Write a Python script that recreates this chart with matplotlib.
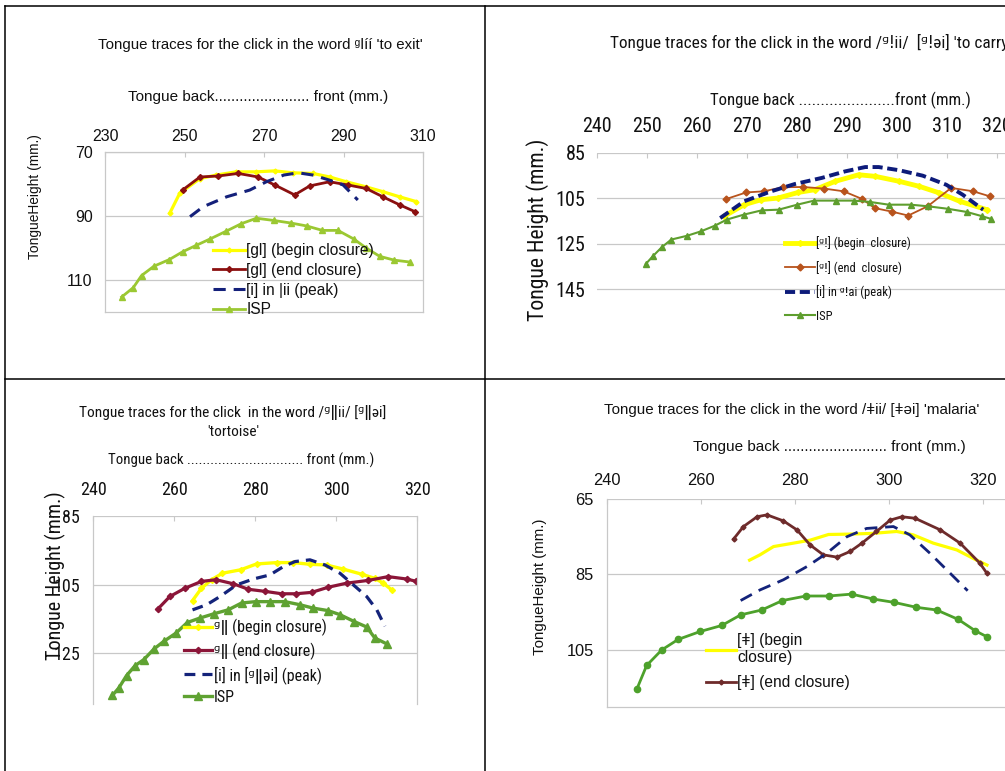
import matplotlib
matplotlib.use('Agg')
import matplotlib.pyplot as plt
from matplotlib import font_manager
from matplotlib.lines import Line2D

W, H = 1005, 771
names = {f.name for f in font_manager.fontManager.ttflist}
NARROW = 'Liberation Sans'
for cand in ['Liberation Sans Narrow', 'Arial Narrow', 'Roboto Condensed']:
    if cand in names:
        NARROW = cand
        break
IS_NARROW = NARROW != 'Liberation Sans'


def n(size):
    return size if IS_NARROW else size * 0.89


SANS = 'Liberation Sans'
FB = 'DejaVu Sans'
TXT = '#111111'
GRID = '#C8C8C8'

# ---------------- data ----------------
# Panel 1: ᶢǀíí 'to exit'
p1_begin_x = [246.3, 248.8, 253.9, 258.0, 263.0, 268.0, 272.7, 277.3, 282.3, 286.5, 290.7, 295.7, 299.9, 304.1, 308.3]
p1_begin_y = [89.1, 82.9, 78.3, 77.2, 76.2, 76.2, 75.9, 76.5, 76.7, 77.8, 79.3, 80.9, 82.4, 84.0, 85.5]
p1_end_x = [249.5, 253.9, 258.5, 263.5, 268.5, 272.7, 277.7, 281.5, 286.5, 291.1, 295.7, 299.9, 304.1, 307.9]
p1_end_y = [81.9, 77.8, 77.5, 76.7, 77.8, 80.3, 83.4, 80.6, 79.3, 80.3, 81.4, 84.0, 86.5, 88.6]
p1_peak_x = [251.4, 254.7, 260.6, 266.4, 270.6, 275.0, 278.6, 282.3, 286.5, 289.9, 293.6]
p1_peak_y = [90.2, 87.1, 84.0, 81.9, 79.3, 77.2, 76.5, 77.2, 78.8, 80.3, 85.0]
p1_isp_x = [234.2, 237.1, 239.2, 242.3, 246.2, 249.5, 252.9, 256.4, 260.4, 264.3, 268.1, 272.5, 276.8, 280.7, 284.7, 288.6, 292.6, 295.7, 299.1, 302.8, 306.8]
p1_isp_y = [115.3, 112.4, 108.6, 105.7, 103.6, 101.2, 99.2, 97.2, 94.8, 92.4, 90.7, 91.4, 92.2, 93.1, 94.5, 94.5, 97.2, 100.0, 102.6, 103.8, 104.4]
p1_xticks = [230, 250, 270, 290, 310]
p1_yticks = [70, 90, 110]
p1_labels = ['[gl] (begin closure)', '[gl] (end closure)', '[i] in |ii (peak)', 'ISP']

# Panel 2: /ᶢǃii/ [ᶢǃəi] 'to carry'
p2_begin_x = [265.5, 269.5, 272.9, 276.2, 280.3, 283.6, 287.7, 292.4, 295.7, 300.5, 304.5, 308.5, 312.6, 318.0]
p2_begin_y = [112.9, 107.8, 105.6, 104.9, 102.4, 101.2, 97.5, 94.6, 95.3, 97.5, 99.7, 102.6, 106.3, 110.0]
p2_end_x = [265.9, 269.9, 273.4, 277.3, 281.3, 285.5, 289.4, 293.1, 295.6, 299.1, 302.3, 306.2, 310.9, 315.3, 318.6]
p2_end_y = [105.3, 102.4, 101.9, 100.1, 100.0, 100.7, 101.9, 105.3, 109.3, 110.9, 112.6, 108.5, 100.4, 101.9, 104.1]
p2_peak_x = [264.7, 269.5, 274.9, 279.6, 285.0, 289.7, 293.7, 296.4, 300.5, 305.2, 309.9, 313.2, 317.3]
p2_peak_y = [113.7, 106.3, 101.9, 98.7, 96.0, 93.1, 91.2, 91.2, 92.6, 95.0, 99.0, 103.4, 110.0]
p2_isp_x = [249.8, 251.2, 253.0, 254.9, 258.1, 260.8, 263.6, 266.0, 269.4, 273.0, 276.4, 280.1, 283.5, 287.8, 291.4, 294.7, 298.4, 302.8, 306.2, 310.2, 314.0, 317.1, 318.9]
p2_isp_y = [134.0, 130.6, 126.6, 123.2, 121.5, 119.6, 117.1, 114.4, 112.2, 110.3, 110.0, 107.8, 106.0, 106.0, 106.0, 106.6, 107.8, 107.8, 108.5, 109.6, 111.0, 112.9, 114.1]
p2_xticks = [240, 250, 260, 270, 280, 290, 300, 310, 320]
p2_yticks = [85, 105, 125, 145]
p2_labels = ['[ᶢǃ] (begin  closure)', '[ᶢǃ] (end  closure)', '[i] in ᶢǃai (peak)', 'ISP']

# Panel 3: /ᶢǁii/ [ᶢǁəi] 'tortoise'
p3_begin_x = [264.5, 266.7, 269.2, 271.9, 276.4, 280.3, 285.3, 289.4, 293.5, 297.6, 301.7, 306.3, 309.5, 311.6, 313.7]
p3_begin_y = [109.7, 106.1, 103.6, 101.7, 100.7, 99.0, 98.6, 98.6, 99.1, 99.3, 100.5, 102.0, 103.2, 104.6, 106.6]
p3_end_x = [255.9, 258.9, 262.6, 266.7, 270.3, 274.6, 278.3, 282.4, 286.5, 290.0, 293.9, 298.0, 302.6, 307.9, 312.8, 317.4, 319.8]
p3_end_y = [112.2, 108.5, 106.1, 104.1, 103.6, 104.8, 106.4, 107.0, 107.7, 107.7, 107.3, 105.8, 104.6, 103.8, 102.7, 103.4, 104.1]
p3_peak_x = [264.5, 268.0, 271.3, 275.4, 279.5, 283.6, 286.9, 289.8, 293.5, 297.2, 300.9, 304.2, 307.5, 310.0, 312.0]
p3_peak_y = [112.4, 110.9, 108.5, 105.1, 103.4, 102.2, 99.8, 98.3, 97.8, 99.3, 101.7, 105.1, 108.5, 112.4, 117.2]
p3_isp_x = [244.7, 246.3, 248.2, 250.3, 252.5, 255.0, 257.4, 260.4, 263.2, 266.3, 269.9, 273.3, 276.6, 280.1, 283.6, 287.3, 291.0, 294.3, 297.9, 300.9, 304.4, 307.5, 309.5, 312.4]
p3_isp_y = [137.4, 135.2, 131.6, 128.7, 126.9, 123.8, 121.6, 119.2, 116.1, 114.8, 113.5, 112.4, 110.4, 110.0, 110.0, 110.0, 110.9, 111.9, 112.6, 113.8, 115.8, 117.4, 120.6, 122.3]
p3_xticks = [240, 260, 280, 300, 320]
p3_yticks = [85, 105, 125]
p3_labels = ['ᶢǁ (begin closure)', 'ᶢǁ (end closure)', '[i] in [ᶢǁəi] (peak)', 'ISP']

# Panel 4: /ǂii/ [ǂəi] 'malaria'
p4_begin_x = [270.4, 272.6, 275.5, 279.7, 283.3, 287.2, 291.8, 296.7, 301.7, 305.2, 309.5, 314.5, 318.7, 320.9]
p4_begin_y = [81.2, 79.8, 77.6, 76.7, 75.9, 74.4, 74.3, 74.1, 73.6, 74.5, 76.7, 78.5, 81.2, 82.5]
p4_end_x = [267.0, 269.1, 272.0, 274.1, 277.6, 280.5, 283.3, 286.1, 289.0, 291.8, 294.3, 297.4, 300.3, 302.8, 305.6, 311.0, 315.2, 319.4, 320.9]
p4_end_y = [75.6, 72.3, 69.7, 69.2, 70.8, 73.2, 77.2, 79.8, 80.4, 78.9, 76.7, 73.6, 70.6, 69.7, 70.1, 73.2, 76.7, 82.0, 84.7]
p4_peak_x = [268.5, 272.6, 277.6, 282.6, 286.8, 291.1, 295.3, 301.0, 304.5, 308.8, 313.1, 316.8]
p4_peak_y = [91.9, 89.1, 86.4, 82.9, 79.4, 75.0, 72.8, 72.3, 74.5, 79.4, 84.7, 89.3]
p4_isp_x = [246.4, 248.5, 251.7, 255.2, 259.9, 264.5, 268.5, 273.0, 277.4, 282.4, 287.2, 292.1, 296.7, 301.2, 305.9, 310.2, 314.8, 318.4, 320.9]
p4_isp_y = [115.4, 109.1, 105.0, 102.2, 100.1, 98.5, 95.7, 94.4, 91.9, 90.7, 90.7, 90.2, 91.5, 92.4, 93.7, 94.4, 96.9, 99.9, 101.5]
p4_xticks = [240, 260, 280, 300, 320]
p4_yticks = [65, 85, 105]
p4_labels = ['[ǂ] (begin\nclosure)', '[ǂ] (end closure)']

# ---------------- figure ----------------
fig = plt.figure(figsize=(W / 100, H / 100), dpi=100)


def rect(l, t, r, b):
    return [l / W, 1 - b / H, (r - l) / W, (b - t) / H]


def fx(x):
    return x / W


def fy(y):
    return 1 - y / H


def setup(ax, xlim, ylim, xt, yt, fam, tsize, xpad, ypad, spines):
    ax.set_xlim(*xlim)
    ax.set_ylim(*ylim)
    ax.xaxis.tick_top()
    ax.set_xticks(xt)
    ax.set_yticks(yt)
    ax.grid(axis='y', color=GRID, lw=0.9)
    ax.grid(axis='x', visible=False)
    ax.set_axisbelow(True)
    ax.tick_params(axis='x', direction='in', length=3.5, width=0.8, color=GRID,
                   pad=xpad, labelsize=tsize, labelcolor=TXT)
    ax.tick_params(axis='y', length=0, pad=ypad, labelsize=tsize, labelcolor=TXT)
    for lab in ax.get_xticklabels() + ax.get_yticklabels():
        lab.set_fontfamily([fam, FB])
    for s in ax.spines:
        ax.spines[s].set_visible(s in spines)
        ax.spines[s].set_color(GRID)
        ax.spines[s].set_linewidth(0.9)
    ax.set_facecolor('none')


def legend(ax, handles, labels, fam, size, left, top, hl, ls):
    leg = ax.legend(handles, labels, loc='upper left',
                    bbox_to_anchor=(fx(left), fy(top)), bbox_transform=fig.transFigure,
                    frameon=False, borderpad=0, borderaxespad=0, handlelength=hl,
                    handletextpad=0.1, labelspacing=ls,
                    prop={'family': [fam, FB], 'size': size})
    for t in leg.get_texts():
        t.set_color(TXT)
    return leg


# ---- Panel 1 ----
ax1 = fig.add_axes(rect(105, 152, 423, 312))
setup(ax1, (230, 310), (120, 70), p1_xticks, p1_yticks, SANS, 11.5, 6, 9,
      ['left', 'right', 'bottom', 'top'])
l1a, = ax1.plot(p1_begin_x, p1_begin_y, color='#FFFF00', lw=2.3, marker='D', ms=2.5)
l1b, = ax1.plot(p1_end_x, p1_end_y, color='#8B1010', lw=2.0, marker='D', ms=3)
l1c, = ax1.plot(p1_peak_x, p1_peak_y, color='#14207A', lw=2.2, dashes=(4, 2.6))
l1d, = ax1.plot(p1_isp_x, p1_isp_y, color='#9BC832', lw=2.0, marker='^', ms=5)
legend(ax1, [l1a, l1b, l1c, l1d], p1_labels, SANS, 11.2, 213, 243, 2.05, 0.31)
fig.text(fx(260), fy(45), "Tongue traces for the click in the word ᶢǀíí 'to exit'",
         ha='center', va='center', fontsize=10.8, family=[SANS, FB], color=TXT)
fig.text(fx(258), fy(97), "Tongue back" + "." * 23 + " front (mm.)",
         ha='center', va='center', fontsize=11, family=[SANS, FB], color=TXT)
fig.text(fx(35), fy(197), "TongueHeight (mm.)", rotation=90,
         ha='center', va='center', fontsize=9.9, family=[SANS, FB], color=TXT)

# ---- Panel 2 ----
ax2 = fig.add_axes(rect(596.7, 153, 1046.7, 323))
setup(ax2, (240, 330), (160, 85), p2_xticks, p2_yticks, NARROW, n(14.5), 12, 8, [])
l2a, = ax2.plot(p2_begin_x, p2_begin_y, color='#FFFF00', lw=3.5, marker='D', ms=3)
l2b, = ax2.plot(p2_end_x, p2_end_y, color='#B8531C', lw=1.3, marker='D', ms=3.5)
l2c, = ax2.plot(p2_peak_x, p2_peak_y, color='#0D1B7A', lw=2.8, dashes=(2.6, 1.2))
l2d, = ax2.plot(p2_isp_x, p2_isp_y, color='#5E9E2E', lw=1.5, marker='^', ms=5)
legend(ax2, [l2a, l2b, l2c, l2d], p2_labels, NARROW, n(9.0), 785, 236, 2.4, 0.85)
fig.text(fx(610), fy(42), "Tongue traces for the click in the word /ᶢǃii/  [ᶢǃəi] 'to carry'",
         ha='left', va='center', fontsize=n(12.4), family=[NARROW, FB], color=TXT)
fig.text(fx(840), fy(100), "Tongue back " + "." * 22 + "front (mm.)",
         ha='center', va='center', fontsize=n(12.1), family=[NARROW, FB], color=TXT)
fig.text(fx(538), fy(230), "Tongue Height (mm.)", rotation=90,
         ha='center', va='center', fontsize=n(15.7), family=[NARROW, FB], color=TXT)

# ---- Panel 3 ----
ax3 = fig.add_axes(rect(93.3, 516, 417.3, 704.4))
setup(ax3, (240, 320), (140, 85), p3_xticks, p3_yticks, NARROW, n(13), 12, 9.5,
      ['left', 'right'])
l3a, = ax3.plot(p3_begin_x, p3_begin_y, color='#FFFF00', lw=2.4, marker='D', ms=3)
l3b, = ax3.plot(p3_end_x, p3_end_y, color='#8B1538', lw=2.3, marker='D', ms=3.2)
l3c, = ax3.plot(p3_peak_x, p3_peak_y, color='#14237A', lw=2.3, dashes=(3.4, 2.2))
l3d, = ax3.plot(p3_isp_x, p3_isp_y, color='#5FA232', lw=2.4, marker='^', ms=5.5)
legend(ax3, [l3a, l3b, l3c, l3d], p3_labels, NARROW, n(11.5), 184, 619, 1.75, 0.38)
fig.text(fx(233), fy(412), "Tongue traces for the click  in the word /ᶢǁii/ [ᶢǁəi]",
         ha='center', va='center', fontsize=n(11.1), family=[NARROW, FB], color=TXT)
fig.text(fx(233), fy(432), "'tortoise'",
         ha='center', va='center', fontsize=n(11.1), family=[NARROW, FB], color=TXT)
fig.text(fx(241), fy(460), "Tongue back " + "." * 30 + " front (mm.)",
         ha='center', va='center', fontsize=n(10.7), family=[NARROW, FB], color=TXT)
fig.text(fx(55), fy(576), "Tongue Height (mm.)", rotation=90,
         ha='center', va='center', fontsize=n(14.5), family=[NARROW, FB], color=TXT)

# ---- Panel 4 ----
ax4 = fig.add_axes(rect(606.7, 499, 1029.7, 706.6))
setup(ax4, (240, 330), (120, 65), p4_xticks, p4_yticks, SANS, 11.8, 8, 9.5, ['left', 'bottom'])
l4a, = ax4.plot(p4_begin_x, p4_begin_y, color='#FFFF00', lw=2.3)
l4b, = ax4.plot(p4_end_x, p4_end_y, color='#6E2B2B', lw=2.0, marker='D', ms=2.5)
l4c, = ax4.plot(p4_peak_x, p4_peak_y, color='#14237A', lw=2.0, dashes=(4.6, 2.8))
l4d, = ax4.plot(p4_isp_x, p4_isp_y, color='#4DA12B', lw=2.0, marker='o', ms=4.5)
legend(ax4, [l4a, l4b], p4_labels, SANS, 11.2, 706, 633, 1.9, 0.62)
fig.text(fx(792), fy(410), "Tongue traces for the click in the word /ǂii/ [ǂəi] 'malaria'",
         ha='center', va='center', fontsize=10.9, family=[SANS, FB], color=TXT)
fig.text(fx(829), fy(447), "Tongue back " + "." * 25 + " front (mm.)",
         ha='center', va='center', fontsize=11, family=[SANS, FB], color=TXT)
fig.text(fx(540), fy(587), "TongueHeight (mm.)", rotation=90,
         ha='center', va='center', fontsize=10.8, family=[SANS, FB], color=TXT)

# ---- cell borders ----
for (x0, y0, x1, y1) in [(5, 6, 1005, 6), (5, 6, 5, 771), (485, 6, 485, 771), (5, 379, 1005, 379)]:
    fig.add_artist(Line2D([fx(x0), fx(x1)], [fy(y0), fy(y1)], transform=fig.transFigure,
                          color='black', lw=1.1))

fig.savefig('out.png', dpi=100)
